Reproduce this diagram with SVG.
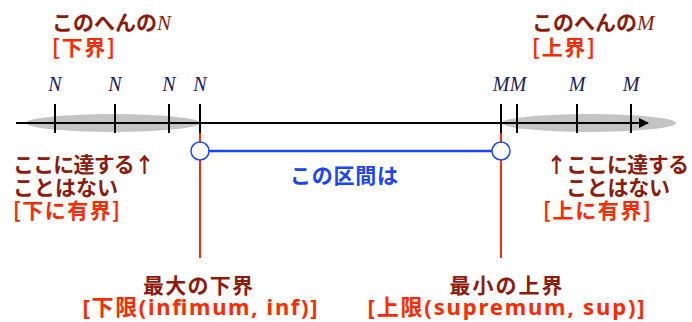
<svg xmlns="http://www.w3.org/2000/svg" width="692" height="322" viewBox="0 0 692 322">
<style>
.jp{font-family:"Noto Sans CJK JP","Noto Sans",sans-serif;font-weight:bold;font-size:21px}
.lat{font-family:"Noto Sans","Noto Sans CJK JP",sans-serif;font-weight:bold;font-size:22px}
.dr{fill:#8e1a0c}
.rd{fill:#ff2a00}
.bl{fill:#1a44ff}
.var{font-family:"Liberation Serif","DejaVu Serif",serif;font-style:italic;font-size:20px;fill:#1c1c5c}
.varr{font-family:"Liberation Serif","DejaVu Serif",serif;font-style:italic;font-weight:normal;fill:#8e1a0c}
.tick{stroke:#000;stroke-width:2}
.redl{stroke:#ff2a00;stroke-width:2}
.gray{fill:#c4c4c4}
</style>
<defs>
<marker id="arr" viewBox="0 0 10 10" refX="9" refY="5" markerWidth="10" markerHeight="10" markerUnits="userSpaceOnUse" orient="auto">
<path d="M0,0 L10,5 L0,10 Z" fill="#000"/>
</marker>
</defs>
<g id="shades">
<ellipse class="gray" cx="113" cy="123" rx="87" ry="9"/>
<ellipse class="gray" cx="589" cy="123" rx="87" ry="9"/>
</g>
<g id="connectors">
<line class="redl" x1="200" y1="104" x2="200" y2="258"/>
<line class="redl" x1="501" y1="104" x2="501" y2="258"/>
<line x1="16" y1="123" x2="648" y2="123" stroke="#000" stroke-width="2" marker-end="url(#arr)"/>
<line x1="209" y1="151" x2="492" y2="151" stroke="#1a44ff" stroke-width="2.5"/>
</g>
<g id="ticks">
<line class="tick" x1="55" y1="104" x2="55" y2="133"/>
<line class="tick" x1="115" y1="104" x2="115" y2="133"/>
<line class="tick" x1="169" y1="104" x2="169" y2="133"/>
<line class="tick" x1="200" y1="104" x2="200" y2="133"/>
<line class="tick" x1="501" y1="104" x2="501" y2="133"/>
<line class="tick" x1="517" y1="104" x2="517" y2="133"/>
<line class="tick" x1="577" y1="104" x2="577" y2="133"/>
<line class="tick" x1="631" y1="104" x2="631" y2="133"/>
</g>
<g id="tick-labels" text-anchor="middle">
<text class="var" x="55" y="91">N</text>
<text class="var" x="115" y="91">N</text>
<text class="var" x="169" y="91">N</text>
<text class="var" x="200" y="91">N</text>
<text class="var" x="501" y="91">M</text>
<text class="var" x="518" y="91">M</text>
<text class="var" x="577" y="91">M</text>
<text class="var" x="631" y="91">M</text>
</g>
<g id="inf-point">
<circle cx="200" cy="151" r="9" fill="#fff" stroke="#1a44ff" stroke-width="1.5"/>
</g>
<g id="sup-point">
<circle cx="501" cy="151" r="9" fill="#fff" stroke="#1a44ff" stroke-width="1.5"/>
</g>
<g id="interval-label">
<text class="jp bl" x="344" y="183" text-anchor="middle" textLength="108">この区間は</text>
</g>
<g id="lower-bound-label">
<text class="jp dr" x="52" y="30">このへんの<tspan class="varr">N</tspan></text>
<text class="jp rd" x="52" y="55" textLength="63">[下界]</text>
</g>
<g id="upper-bound-label">
<text class="jp dr" x="532" y="30">このへんの<tspan class="varr">M</tspan></text>
<text class="jp rd" x="532" y="55" textLength="63">[上界]</text>
</g>
<g id="left-note">
<text class="jp dr" x="13" y="172" textLength="142">ここに達する↑</text>
<text class="jp dr" x="13" y="195" textLength="105">ことはない</text>
<text class="jp rd" x="13" y="218" textLength="107">[下に有界]</text>
</g>
<g id="right-note">
<text class="jp dr" x="546" y="172" textLength="143">↑ここに達する</text>
<text class="jp dr" x="566" y="195" textLength="104">ことはない</text>
<text class="jp rd" x="543" y="218" textLength="108">[上に有界]</text>
</g>
<g id="infimum-label" text-anchor="middle">
<text class="jp dr" x="198" y="293" textLength="110">最大の下界</text>
<text class="lat rd" x="200" y="315" textLength="235">[下限(infimum, inf)]</text>
</g>
<g id="supremum-label" text-anchor="middle">
<text class="jp dr" x="506" y="293" textLength="113">最小の上界</text>
<text class="lat rd" x="506" y="315" textLength="277">[上限(supremum, sup)]</text>
</g>
</svg>
